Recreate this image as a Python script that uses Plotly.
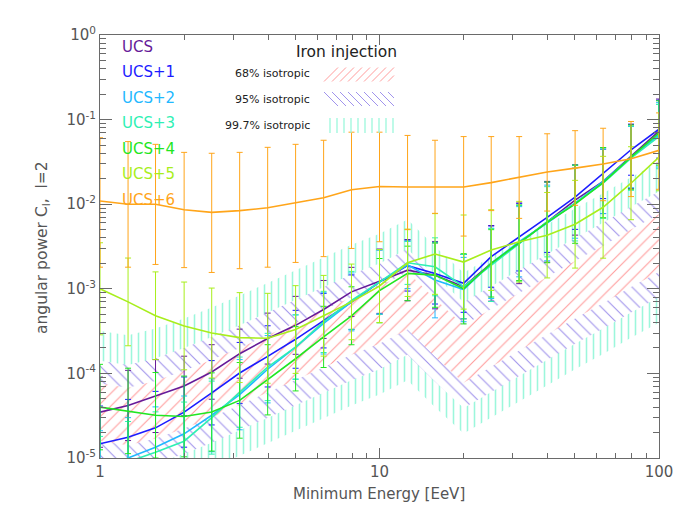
import plotly.graph_objects as go

# ---------------- data ----------------
energy = [1, 1.26, 1.58, 2.0, 2.51, 3.16, 3.98, 5.01, 6.31, 7.94, 10,
          12.6, 15.8, 20.0, 25.1, 31.6, 39.8, 50.1, 63.1, 79.4, 100]

series_names = ["UCS", "UCS+1", "UCS+2", "UCS+3", "UCS+4", "UCS+5", "UCS+6"]
series_colors = ["#661a99", "#1c1cff", "#22b8ff", "#2ef0b4", "#22e622", "#a8ee1c", "#ffa51a"]

ucs = [3.48e-5, 4.18e-5, 5.4e-5, 7.1e-5, 1.04e-4, 1.71e-4, 2.58e-4, 3.7e-4, 5.7e-4, 9.2e-4, 1.23e-3,
       1.66e-3, 1.45e-3, 1.06e-3, 2.0e-3, 3.45e-3, 6.2e-3, 1.12e-2, 1.86e-2, 3.67e-2, 7.3e-2]
ucs1 = [1.47e-5, 1.76e-5, 2.27e-5, 3.49e-5, 5.9e-5, 1.01e-4, 1.59e-4, 2.53e-4, 4.2e-4, 6.95e-4, 1.2e-3,
        1.88e-3, 1.52e-3, 1.16e-3, 2.4e-3, 4.06e-3, 7.0e-3, 1.21e-2, 2.33e-2, 4.4e-2, 7.7e-2]
ucs2 = [7e-6, 1.0e-5, 1.34e-5, 1.93e-5, 3.2e-5, 5.6e-5, 1.12e-4, 2.05e-4, 3.9e-4, 7.0e-4, 1.21e-3,
        1.91e-3, 1.27e-3, 9.8e-4, 2.0e-3, 3.6e-3, 6.0e-3, 1.03e-2, 1.86e-2, 3.6e-2, 6.6e-2]
ucs3 = [6e-6, 9e-6, 1.17e-5, 1.58e-5, 3.0e-5, 6.0e-5, 1.19e-4, 2.05e-4, 4.06e-4, 7.3e-4, 1.2e-3,
        2.03e-3, 1.82e-3, 1.06e-3, 1.91e-3, 3.45e-3, 6.2e-3, 1.03e-2, 1.77e-2, 3.5e-2, 6.3e-2]
ucs4 = [4.0e-5, 3.6e-5, 3.2e-5, 3.1e-5, 3.5e-5, 4.8e-5, 8.4e-5, 1.49e-4, 2.7e-4, 4.8e-4, 9.5e-4,
        1.52e-3, 1.45e-3, 1.0e-3, 2.0e-3, 3.5e-3, 6.1e-3, 1.0e-2, 1.8e-2, 3.6e-2, 6.95e-2]
ucs5 = [1.0e-3, 7.0e-4, 4.8e-4, 3.64e-4, 3.0e-4, 2.65e-4, 2.6e-4, 3.3e-4, 4.8e-4, 7.0e-4, 1.08e-3,
        2.03e-3, 2.58e-3, 2.07e-3, 2.87e-3, 3.6e-3, 4.3e-3, 5.8e-3, 9.2e-3, 1.77e-2, 3.6e-2]
ucs6 = [1.09e-2, 1.0e-2, 1.0e-2, 8.6e-3, 8.0e-3, 8.4e-3, 9.06e-3, 1.04e-2, 1.19e-2, 1.48e-2, 1.62e-2,
        1.6e-2, 1.6e-2, 1.6e-2, 1.8e-2, 2.1e-2, 2.4e-2, 2.67e-2, 2.98e-2, 3.45e-2, 4.33e-2]

# multiplicative error factors (upper = v*f, lower = v/f)
err_ucs = [2.6, 2.6, 2.7, 2.25, 2.1, 1.95, 2.0, 2.2, 2.2, 1.95, 2.4, 2.3, 2.5, 2.4, 2.8, 3.0, 3.0, 2.6, 2.4, 2.4, 2.4]
err_ucs1 = [2.8, 2.8, 2.7, 2.6, 2.4, 2.3, 2.3, 2.2, 2.1, 2.1, 2.4, 2.0, 2.3, 2.2, 2.3, 2.5, 2.6, 2.4, 2.0, 2.0, 2.2]
err_ucs2 = [3.0, 3.0, 3.0, 2.8, 2.7, 2.6, 2.5, 2.4, 2.3, 2.2, 2.4, 1.9, 2.8, 2.4, 2.6, 2.6, 2.8, 2.6, 2.4, 2.3, 2.4]
err_ucs3 = [3.0, 3.0, 3.0, 2.9, 2.7, 2.6, 2.5, 2.4, 2.3, 2.2, 2.4, 1.8, 2.2, 2.4, 2.7, 2.8, 2.6, 2.8, 2.6, 2.4, 2.4]
err_ucs4 = [3.2, 3.2, 3.2, 3.0, 2.9, 2.8, 2.6, 2.4, 2.3, 2.2, 2.4, 2.1, 2.4, 2.6, 2.5, 2.8, 3.0, 2.9, 2.6, 2.4, 2.4]
err_ucs5 = [3.5, 3.3, 3.3, 3.3, 3.4, 3.4, 3.4, 3.3, 3.0, 2.8, 2.7, 2.5, 3.0, 3.6, 3.0, 3.0, 3.2, 3.3, 4.0, 2.7, 2.5]
ucs6_upper = [6.1e-2, 5.5e-2, 5.1e-2, 4.1e-2, 4.0e-2, 4.1e-2, 4.7e-2, 5.1e-2, 5.7e-2, 7.1e-2, 7.1e-2,
              6.5e-2, 5.7e-2, 6.3e-2, 6.3e-2, 6.3e-2, 6.8e-2, 7.4e-2, 7.9e-2, 9.5e-2, 1.2e-1]
ucs6_lower = [1.8e-3, 1.8e-3, 1.94e-3, 1.78e-3, 1.56e-3, 1.73e-3, 1.8e-3, 2.05e-3, 2.4e-3, 3.0e-3, 3.6e-3,
              5.0e-3, 7.8e-3, 4.2e-3, 8.4e-3, 6.8e-3, 8.3e-3, 9.7e-3, 1.1e-2, 1.23e-2, 1.5e-2]

# isotropic expectation bands (log10 of C_l)
band68_hi = [-4.12, -4.17, -4.09, -3.97, -3.84, -3.70, -3.55, -3.40, -3.25, -3.10, -2.97,
             -2.80, -3.12, -3.43, -3.24, -3.05, -2.86, -2.67, -2.49, -2.30, -2.12]
band68_lo = [-4.80, -4.85, -4.77, -4.65, -4.52, -4.38, -4.23, -4.08, -3.93, -3.78, -3.65,
             -3.48, -3.80, -4.11, -3.92, -3.73, -3.54, -3.35, -3.17, -2.98, -2.80]
band95_hi = [-3.85, -3.90, -3.82, -3.70, -3.57, -3.43, -3.28, -3.13, -2.98, -2.83, -2.70,
             -2.53, -2.85, -3.16, -2.97, -2.78, -2.59, -2.40, -2.22, -2.03, -1.85]
band95_lo = [-5.10, -5.15, -5.07, -4.95, -4.82, -4.68, -4.53, -4.38, -4.23, -4.08, -3.95,
             -3.78, -4.10, -4.41, -4.22, -4.03, -3.84, -3.65, -3.47, -3.28, -3.10]
band997_hi = [-3.50, -3.55, -3.47, -3.35, -3.22, -3.08, -2.93, -2.78, -2.63, -2.48, -2.35,
              -2.18, -2.50, -2.81, -2.62, -2.43, -2.24, -2.05, -1.87, -1.68, -1.50]
band997_lo = [-5.40, -5.45, -5.37, -5.25, -5.12, -4.98, -4.83, -4.68, -4.53, -4.38, -4.25,
              -4.08, -4.40, -4.71, -4.52, -4.33, -4.14, -3.95, -3.77, -3.58, -3.40]

band_labels = ["68% isotropic", "95% isotropic", "99.7% isotropic"]
band_colors = ["#ff9c9c", "#a093ec", "#9cf7dc"]
band_shapes = ["/", "\\", "|"]

x_tickvals = [1, 10, 100]
x_ticktext = ["1", "10", "100"]
x_minor = [2, 3, 4, 5, 6, 7, 8, 9, 20, 30, 40, 50, 60, 70, 80, 90]
y_tickvals = [1e-5, 1e-4, 1e-3, 1e-2, 1e-1, 1]
y_ticktext = ["10<sup>-5</sup>", "10<sup>-4</sup>", "10<sup>-3</sup>", "10<sup>-2</sup>",
              "10<sup>-1</sup>", "10<sup>0</sup>"]
y_minor = [m * 10.0 ** e for e in range(-5, 0) for m in range(2, 10)]

# ---------------- figure ----------------
fig = go.Figure()

OFF = 8                     # page body margin in front of the figure
W, H = 667, 496
L, R, T, B = 92, 16, 27, 46
PW, PH = W - L - R, H - T - B


def px(x):                  # page pixel -> paper x
    return (x - OFF - L) / PW


def py(y):                  # page pixel -> paper y
    return (H - B - (y - OFF)) / PH


# bands: widest first, each covering the one beneath with a white background
pattern_size = {0: 9, 1: 9, 2: 7}
pattern_solid = {0: 0.12, 1: 0.12, 2: 0.22}
bands = [(band997_lo, band997_hi, 2), (band95_lo, band95_hi, 1), (band68_lo, band68_hi, 0)]
for lo, hi, idx in bands:
    xs = energy + energy[::-1]
    ys = [10 ** v for v in hi] + [10 ** v for v in lo[::-1]]
    fig.add_trace(go.Scatter(
        x=xs, y=ys, mode="lines", line=dict(width=0), fill="toself",
        fillcolor="rgba(255,255,255,1)",
        fillpattern=dict(shape=band_shapes[idx], fgcolor=band_colors[idx], bgcolor="white",
                         size=pattern_size[idx], solidity=pattern_solid[idx], fillmode="replace"),
        hoverinfo="skip", showlegend=False))

values = [ucs, ucs1, ucs2, ucs3, ucs4, ucs5, ucs6]
factors = [err_ucs, err_ucs1, err_ucs2, err_ucs3, err_ucs4, err_ucs5, None]
for i, (vals, fac) in enumerate(zip(values, factors)):
    if fac is None:
        up = [u - v for u, v in zip(ucs6_upper, vals)]
        dn = [v - l for l, v in zip(ucs6_lower, vals)]
    else:
        up = [v * f - v for v, f in zip(vals, fac)]
        dn = [v - v / f for v, f in zip(vals, fac)]
    fig.add_trace(go.Scatter(
        x=energy, y=vals, mode="lines", name=series_names[i],
        line=dict(color=series_colors[i], width=1.6),
        error_y=dict(type="data", symmetric=False, array=up, arrayminus=dn,
                     color=series_colors[i], thickness=1, width=3),
        showlegend=False))

axis_col = "#6a6a6a"
font_fam = "DejaVu Sans"
text_col = "#555555"

fig.update_xaxes(type="log", range=[0, 2], tickmode="array", tickvals=x_tickvals, ticktext=x_ticktext,
                 ticks="inside", ticklen=10, tickcolor=axis_col, tickwidth=1,
                 showline=True, linecolor=axis_col, linewidth=1, mirror="ticks",
                 showgrid=False, zeroline=False, automargin=False,
                 minor=dict(tickmode="array", tickvals=x_minor, ticks="inside", ticklen=5,
                            tickcolor=axis_col, showgrid=False),
                 tickfont=dict(family=font_fam, size=15, color=text_col))
fig.update_yaxes(type="log", range=[-5, 0], tickmode="array", tickvals=y_tickvals, ticktext=y_ticktext,
                 ticks="inside", ticklen=12, tickcolor=axis_col, tickwidth=1,
                 showline=True, linecolor=axis_col, linewidth=1, mirror="ticks",
                 showgrid=False, zeroline=False, automargin=False,
                 minor=dict(tickmode="array", tickvals=y_minor, ticks="inside", ticklen=6,
                            tickcolor=axis_col, showgrid=False),
                 tickfont=dict(family=font_fam, size=15, color=text_col))

annotations = []
# axis titles
annotations.append(dict(x=px(379), y=py(494), xref="paper", yref="paper", text="Minimum Energy [EeV]",
                        showarrow=False, xanchor="center", yanchor="middle",
                        font=dict(family=font_fam, size=15, color=text_col)))
annotations.append(dict(x=px(43), y=py(248), xref="paper", yref="paper",
                        text="angular power C<sub>l</sub>,  l=2", textangle=-90,
                        showarrow=False, xanchor="center", yanchor="middle",
                        font=dict(family=font_fam, size=15.5, color=text_col)))
label_y = [46.7, 71.7, 97.7, 123.3, 149.3, 174.3, 200.0]
for name, col, yy in zip(series_names, series_colors, label_y):
    annotations.append(dict(x=px(120), y=py(yy), xref="paper", yref="paper", text=name,
                            showarrow=False, xanchor="left", yanchor="middle",
                            font=dict(family=font_fam, size=15, color=col)))
annotations.append(dict(x=px(346), y=py(52), xref="paper", yref="paper", text="Iron injection",
                        showarrow=False, xanchor="center", yanchor="middle",
                        font=dict(family=font_fam, size=15.5, color="#222222")))
for lab, yy in zip(band_labels, [73.5, 99.5, 125.5]):
    annotations.append(dict(x=px(312), y=py(yy), xref="paper", yref="paper", text=lab,
                            showarrow=False, xanchor="right", yanchor="middle",
                            font=dict(family=font_fam, size=11, color="#222222")))

shapes = []
# legend hatch swatches
for k in range(9):
    x0 = 324 + 8 * k
    x1 = min(x0 + 14, 394)
    shapes.append(dict(type="line", xref="paper", yref="paper", x0=px(x0), y0=py(81.5),
                       x1=px(x1), y1=py(81.5 - (x1 - x0)),
                       line=dict(color=band_colors[0], width=1)))
    shapes.append(dict(type="line", xref="paper", yref="paper", x0=px(x0), y0=py(92),
                       x1=px(x1), y1=py(92 + (x1 - x0)),
                       line=dict(color=band_colors[1], width=1)))
for k in range(10):
    x0 = 330 + 7 * k
    shapes.append(dict(type="line", xref="paper", yref="paper", x0=px(x0), y0=py(118),
                       x1=px(x0), y1=py(133), line=dict(color=band_colors[2], width=1.3)))

fig.update_layout(width=W, height=H, margin=dict(l=L, r=R, t=T, b=B, autoexpand=False),
                  paper_bgcolor="white", plot_bgcolor="white",
                  annotations=annotations, shapes=shapes, showlegend=False)

fig.write_html("out.html")
